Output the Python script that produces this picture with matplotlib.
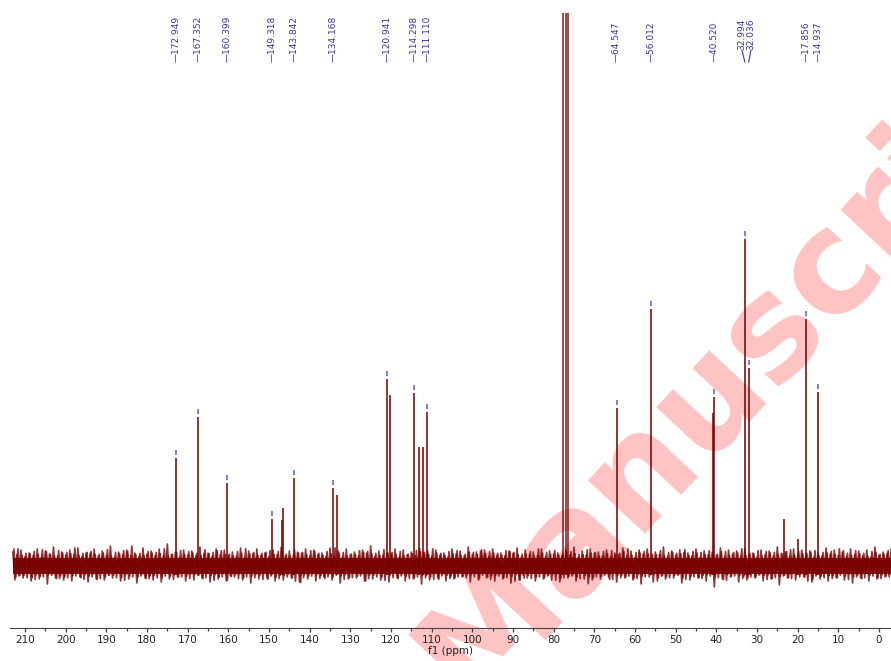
import numpy as np
import matplotlib.pyplot as plt

# 13C NMR peak list (ppm) and heights (arbitrary units, baseline = 0)
labeled_ppm = [172.949, 167.352, 160.399, 149.318, 143.842, 134.168,
               120.941, 114.298, 111.110, 64.547, 56.012, 40.520,
               32.994, 32.036, 17.856, 14.937]
labeled_height = [107, 148, 82, 46, 87, 77,
                  186, 172, 153, 157, 256, 168,
                  326, 197, 246, 173]

# peaks without a label
extra_ppm = [146.9, 146.6, 133.4, 120.2, 113.2, 112.2, 40.8, 23.4, 20.0]
extra_height = [45, 57, 70, 170, 118, 118, 152, 46, 26]

# CDCl3 triplet (runs off the top)
solvent_ppm = [77.6, 77.0, 76.4]
solvent_height = [700, 700, 700]

# baseline noise envelope, read every 2 ppm from 213 down to -3
noise_ppm = np.arange(213, -4, -2)
noise_hi = [13, 15, 12, 16, 14, 18, 13, 15, 17, 12,
            16, 14, 19, 13, 15, 12, 17, 14, 16, 21,
            13, 15, 14, 18, 12, 16, 15, 13, 17, 14,
            16, 12, 15, 18, 14, 13, 16, 15, 12, 17,
            14, 16, 13, 15, 19, 14, 12, 16, 15, 13,
            17, 14, 15, 12, 16, 14, 18, 13, 15, 16,
            12, 14, 17, 15, 13, 16, 14, 12, 15, 18,
            14, 16, 13, 15, 12, 17, 14, 15, 16, 13,
            18, 14, 15, 12, 16, 14, 13, 17, 15, 14,
            16, 12, 15, 14, 18, 13, 16, 15, 14, 12,
            17, 15, 13, 16, 14, 15, 18, 13, 16]
noise_lo = [-14, -12, -17, -13, -15, -19, -12, -16, -14, -13,
            -18, -15, -13, -16, -22, -14, -12, -17, -15, -13,
            -16, -14, -20, -13, -15, -12, -17, -14, -16, -13,
            -15, -18, -13, -16, -14, -12, -17, -15, -13, -16,
            -14, -19, -13, -15, -16, -12, -17, -14, -15, -13,
            -16, -14, -18, -13, -15, -17, -14, -12, -16, -15,
            -13, -17, -14, -16, -12, -15, -18, -14, -13, -16,
            -15, -13, -17, -14, -16, -12, -15, -18, -14, -13,
            -16, -14, -15, -17, -13, -16, -14, -19, -15, -13,
            -16, -14, -12, -17, -15, -13, -16, -14, -18, -15,
            -13, -16, -14, -15, -17, -13, -16, -14, -15]

major_ticks = list(range(0, 211, 10))
minor_ticks = list(range(5, 211, 10))

red = '#7a0000'
blue = '#3636a8'

fig = plt.figure(figsize=(8.91, 6.61), dpi=100)
ax = fig.add_axes([10 / 891, 33 / 661, 881 / 891, 615 / 661])
ax.set_xlim(213.7, -2.95)
ax.set_ylim(-63, 552)

# noise band: dense core plus zigzags through the read envelope values,
# visited in shuffled orders so the texture is not periodic
n = len(noise_hi)
hi = np.array(noise_hi, dtype=float)
lo = np.array(noise_lo, dtype=float)
idx = np.arange(n)
steps = [0, 0.5, 1.0, 1.5]
for shift_ppm, order, scale in [(0.0, (0, 37, 71, 53), (1.0, 1.0, 0.65, 0.85)),
                                (0.25, (19, 88, 5, 61), (0.75, 0.8, 0.9, 0.6))]:
    vals = [hi[(idx + order[0]) % n] * scale[0], lo[(idx + order[1]) % n] * scale[1],
            hi[(idx + order[2]) % n] * scale[2], lo[(idx + order[3]) % n] * scale[3]]
    zig_y = np.ravel(np.column_stack(vals))
    zig_x = np.ravel(np.column_stack([noise_ppm - s - shift_ppm for s in steps]))
    ax.plot(zig_x, zig_y, color=red, lw=1.2, alpha=0.8, zorder=2)
ax.fill_between(noise_ppm, -9, 7, color=red, lw=0, alpha=0.9, zorder=2)

# peaks
ax.vlines(labeled_ppm, -10, labeled_height, color=red, lw=1.4, alpha=0.8, zorder=3)
ax.vlines(extra_ppm, -10, extra_height, color=red, lw=1.4, alpha=0.8, zorder=3)
ax.vlines(solvent_ppm, -10, solvent_height, color=red, lw=1.4, alpha=0.7, zorder=3)

# little blue marks above labelled peaks
tops = np.array(labeled_height)
ax.vlines(labeled_ppm, tops + 3, tops + 8, color='#6868d8', lw=1.2, zorder=4)

# peak labels along the top
shift = {32.994: 33.7, 32.036: 31.5}
for p in labeled_ppm:
    if p in shift:
        ax.text(shift[p], 515, f'{p:.3f}', rotation=90, ha='center', va='bottom',
                fontsize=6.5, color=blue, zorder=5)
        ax.plot([shift[p], p], [515, 503], color=blue, lw=0.8, zorder=5)
    else:
        ax.text(p, 503, f'\u2014{p:.3f}', rotation=90, ha='center', va='bottom',
                fontsize=6.5, color=blue, zorder=5)

# axis styling
for s in ['top', 'left', 'right']:
    ax.spines[s].set_visible(False)
ax.spines['bottom'].set_color('#444444')
ax.set_yticks([])
ax.set_xticks(major_ticks)
ax.set_xticks(minor_ticks, minor=True)
ax.tick_params(axis='x', which='major', length=3, width=0.9, color='#444444',
               labelsize=7.5, labelcolor='#222222', pad=2)
ax.tick_params(axis='x', which='minor', length=1.8, width=0.9, color='#444444')
ax.set_xlabel('f1 (ppm)', fontsize=7.5, color='#222222', labelpad=1)

# journal watermark
wm = dict(transform=fig.transFigure, rotation=47, rotation_mode='anchor',
          va='baseline', fontsize=102, fontweight='bold', color='red',
          alpha=0.24, zorder=1, clip_on=False)
ax.text(472 / 891, -45 / 661, 'Accepted ', ha='right', **wm)
ax.text(472 / 891, -45 / 661, 'Manuscript', ha='left', **wm)

fig.savefig('out.png', dpi=100)
